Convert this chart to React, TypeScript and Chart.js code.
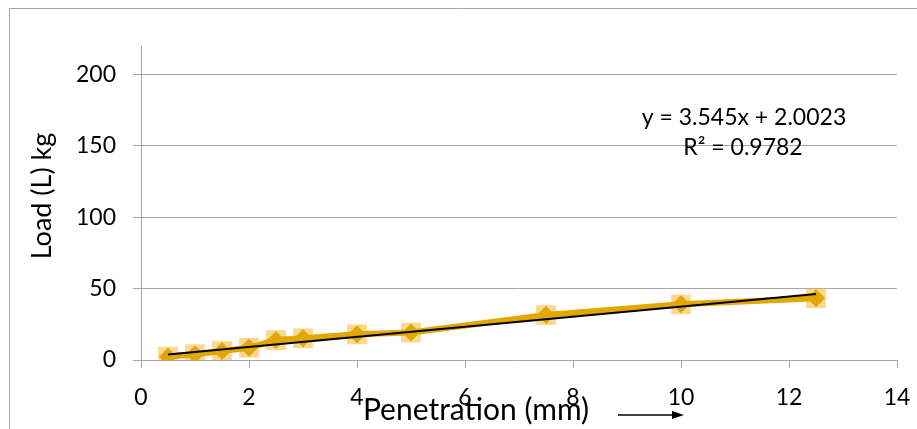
import React, { useEffect, useRef } from 'react';
import { Chart, registerables } from 'chart.js';

Chart.register(...registerables);

const penetration = [0.5, 1, 1.5, 2, 2.5, 3, 4, 5, 7.5, 10, 12.5];
const load = [2.3, 4, 6.3, 8.6, 14, 15.2, 18, 19.2, 31.5, 39, 43.3];
const xTickValues = [0, 2, 4, 6, 8, 10, 12, 14];
const yTickValues = [0, 50, 100, 150, 200];
const slope = 3.545;
const intercept = 2.0023;
const eqLabel = 'y = 3.545x + 2.0023';
const r2Label = 'R² = 0.9782';
const xTitle = 'Penetration (mm)';
const yTitle = 'Load (L) kg';

const FONT = 'Lato, "Open Sans", sans-serif';
const GRID = '#A6A6A6';
const GOLD = '#E2A700';

const overlay = {
  id: 'overlay',
  afterDraw(chart: any) {
    const ctx = chart.ctx;
    ctx.save();
    ctx.strokeStyle = '#A6A6A6';
    ctx.lineWidth = 1;
    ctx.beginPath();
    ctx.moveTo(9.5, 429);
    ctx.lineTo(9.5, 8.5);
    ctx.lineTo(917, 8.5);
    ctx.stroke();

    ctx.fillStyle = '#000';
    ctx.textAlign = 'center';
    ctx.textBaseline = 'middle';
    ctx.font = `30px ${FONT}`;
    ctx.fillText(xTitle, 476, 410);

    // arrow
    ctx.strokeStyle = '#000';
    ctx.lineWidth = 1.5;
    ctx.beginPath();
    ctx.moveTo(618, 415);
    ctx.lineTo(674, 415);
    ctx.stroke();
    ctx.beginPath();
    ctx.moveTo(684, 415);
    ctx.lineTo(672, 411);
    ctx.lineTo(672, 419);
    ctx.closePath();
    ctx.fill();

    ctx.font = `23px ${FONT}`;
    ctx.fillText(eqLabel, 744, 118);
    ctx.fillText(r2Label, 743, 148);

    ctx.font = `27px ${FONT}`;
    ctx.translate(42, 196);
    ctx.rotate(-Math.PI / 2);
    ctx.fillText(yTitle, 0, 0);
    ctx.restore();
  },
};

export default function App() {
  const ref = useRef<HTMLCanvasElement>(null);
  useEffect(() => {
    if (!ref.current) return;
    const pts = penetration.map((x, i) => ({ x, y: load[i] }));
    const xMin = penetration[0];
    const xMax = penetration[penetration.length - 1];
    const trend = [
      { x: xMin, y: slope * xMin + intercept },
      { x: xMax, y: slope * xMax + intercept },
    ];
    const chart = new Chart(ref.current, {
      type: 'scatter',
      data: {
        datasets: [
          {
            label: 'trend',
            data: trend,
            showLine: true,
            borderColor: '#000',
            borderWidth: 2,
            pointRadius: 0,
            order: 1,
          },
          {
            label: 'load',
            data: pts,
            showLine: true,
            borderColor: GOLD,
            borderWidth: 6,
            backgroundColor: GOLD,
            pointStyle: 'rectRot',
            pointRadius: 9,
            pointBorderWidth: 0,
            order: 2,
          },
          {
            label: 'glow',
            data: pts,
            showLine: false,
            backgroundColor: 'rgba(246,190,70,0.6)',
            pointStyle: 'rect',
            pointRadius: 14,
            pointBorderWidth: 0,
            order: 3,
          },
        ],
      },
      options: {
        responsive: false,
        animation: false,
        devicePixelRatio: 1,
        layout: { padding: { left: 0, right: 20, top: 46, bottom: 0 } },
        plugins: { legend: { display: false }, tooltip: { enabled: false } },
        scales: {
          x: {
            type: 'linear',
            min: 0,
            max: 14,
            afterBuildTicks: (s: any) => {
              s.ticks = xTickValues.map((v) => ({ value: v }));
            },
            afterFit: (s: any) => {
              s.height = 69;
              s.paddingLeft = 0;
              s.paddingRight = 0;
            },
            grid: {
              drawOnChartArea: false,
              drawTicks: true,
              tickLength: 8,
              color: GRID,
            },
            border: { color: GRID, width: 1 },
            ticks: {
              color: '#000',
              font: { family: FONT, size: 23 },
              padding: 16,
              maxRotation: 0,
            },
          },
          y: {
            type: 'linear',
            min: 0,
            max: 220,
            afterBuildTicks: (s: any) => {
              s.ticks = yTickValues.map((v) => ({ value: v }));
            },
            afterFit: (s: any) => {
              s.width = 141;
              s.paddingTop = 0;
              s.paddingBottom = 0;
            },
            grid: {
              drawOnChartArea: true,
              drawTicks: true,
              tickLength: 8,
              color: GRID,
            },
            border: { color: GRID, width: 1 },
            ticks: {
              color: '#000',
              font: { family: FONT, size: 23 },
              padding: 17,
            },
          },
        },
      },
      plugins: [overlay],
    });
    return () => chart.destroy();
  }, []);
  return (
    <div style={{ position: 'fixed', left: 0, top: 0, width: 917, height: 429, background: '#fff' }}>
      <canvas ref={ref} width={917} height={429} />
    </div>
  );
}
